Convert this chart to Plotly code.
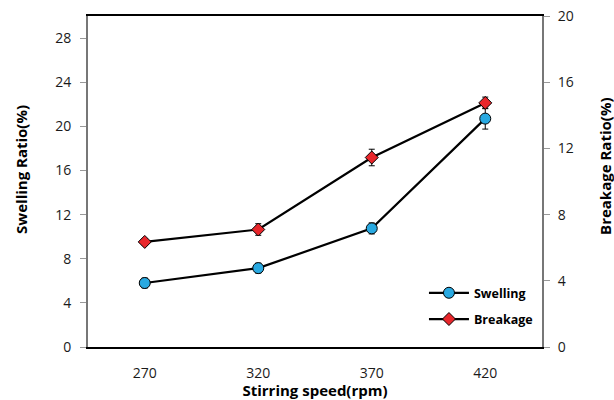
import plotly.graph_objects as go

# Stirring speed (rpm) categories
speeds = ["270", "320", "370", "420"]

# Swelling ratio (%) with error (left axis)
swelling = [5.8, 7.15, 10.75, 20.7]
swelling_err = [0.45, 0.45, 0.5, 0.95]

# Breakage ratio (%) with error (right axis)
breakage = [6.35, 7.1, 11.45, 14.75]
breakage_err = [0.2, 0.35, 0.5, 0.35]

left_ticks = [0, 4, 8, 12, 16, 20, 24, 28]
right_ticks = [0, 4, 8, 12, 16, 20]

FONT = "Open Sans"
TITLE_FONT = dict(family=FONT, size=15, weight="bold", color="black")

fig = go.Figure()

fig.add_trace(go.Scatter(
    x=speeds, y=swelling, name="Swelling", mode="lines+markers",
    line=dict(color="black", width=2.2),
    marker=dict(symbol="circle", size=11, color="#29A9E1",
                line=dict(color="black", width=1)),
    error_y=dict(type="data", array=swelling_err, color="black",
                 thickness=1, width=3),
    yaxis="y", legendgroup="a",
))

fig.add_trace(go.Scatter(
    x=speeds, y=breakage, name="Breakage", mode="lines+markers",
    line=dict(color="black", width=2.2),
    marker=dict(symbol="diamond", size=10, color="#E8262B",
                line=dict(color="black", width=1)),
    error_y=dict(type="data", array=breakage_err, color="black",
                 thickness=1, width=3),
    yaxis="y2", legendgroup="b",
))

# Vertical axis titles, placed as rotated text beside each axis
fig.add_annotation(text="Swelling Ratio(%)", xref="paper", yref="paper",
                   x=-0.1476, y=0.538, textangle=-90, showarrow=False,
                   xanchor="center", yanchor="middle", font=TITLE_FONT)
fig.add_annotation(text="Breakage Ratio(%)", xref="paper", yref="paper",
                   x=1.1388, y=0.544, textangle=-90, showarrow=False,
                   xanchor="center", yanchor="middle", font=TITLE_FONT)

fig.update_layout(
    width=614, height=400,
    margin=dict(l=88, r=72, t=16, b=53),
    paper_bgcolor="white", plot_bgcolor="white",
    font=dict(family=FONT, size=14, color="#1a1a1a"),
    showlegend=True,
    legend=dict(
        x=0.74, y=0.208, xanchor="left", yanchor="top",
        bgcolor="rgba(0,0,0,0)", borderwidth=0,
        font=dict(family=FONT, size=12.5, color="black", weight="bold"),
        itemwidth=40, tracegroupgap=7, traceorder="grouped",
    ),
    xaxis=dict(
        type="category", range=[-0.5, 3.5], automargin=False,
        showgrid=False, zeroline=False,
        showline=True, linecolor="black", linewidth=2, mirror=True,
        ticks="", tickfont=dict(size=14), ticklabelstandoff=12,
        title=dict(text="Stirring speed(rpm)", standoff=4, font=TITLE_FONT),
    ),
    yaxis=dict(
        range=[0, 30], tickvals=left_ticks, automargin=False,
        showgrid=False, zeroline=False,
        showline=True, linecolor="#777777", linewidth=2,
        ticks="outside", ticklen=6, tickcolor="#999999", tickwidth=1,
        tickfont=dict(size=14), ticklabelstandoff=6,
    ),
    yaxis2=dict(
        range=[0, 20], tickvals=right_ticks, overlaying="y", side="right",
        automargin=False,
        showgrid=False, zeroline=False,
        showline=True, linecolor="#777777", linewidth=2,
        ticks="outside", ticklen=6, tickcolor="#999999", tickwidth=1,
        tickfont=dict(size=14), ticklabelstandoff=5,
    ),
)

fig.write_html("out.html")
